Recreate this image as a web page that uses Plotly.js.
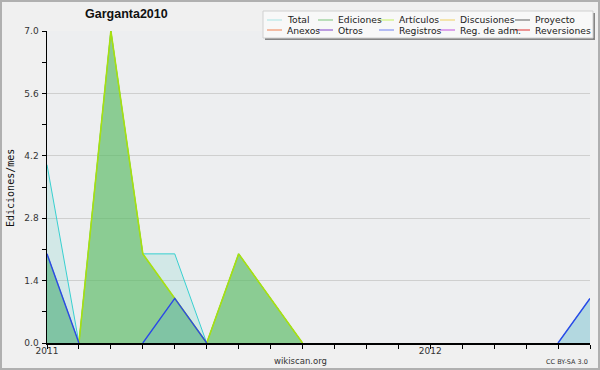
<!DOCTYPE html>
<html>
<head>
<meta charset="utf-8">
<script src="https://cdn.plot.ly/plotly-3.0.1.min.js"></script>
<style>
  html, body { margin: 0; padding: 0; background: #f0f0f0; }
  #wrap { position: relative; width: 600px; height: 370px; }
  #chart { width: 600px; height: 370px; }
  #frame { position: absolute; left: 0; top: 0; width: 600px; height: 370px; box-sizing: border-box;
           border: 2px solid #b0b0b0; pointer-events: none; }
</style>
</head>
<body>
<div id="wrap"><div id="chart"></div><div id="frame"></div></div>
<script>
// Months (2011-01 .. 2012-06)
const months = ["2011-01","2011-02","2011-03","2011-04","2011-05","2011-06","2011-07","2011-08","2011-09",
                "2011-10","2011-11","2011-12","2012-01","2012-02","2012-03","2012-04","2012-05","2012-06"];
const monthLabels = ["2011","","","","","","","","","","","","2012","","","","",""];

// Series values (edits per month)
const total      = [4, 0, 7, 2, 2, 0, 2, 1, 0, 0, 0, 0, 0, 0, 0, 0, 0, 1];
const ediciones  = [2, 0, 7, 2, 1, 0, 2, 1, 0, 0, 0, 0, 0, 0, 0, 0, 0, 0];
const articulos  = [0, 0, 7, 2, 1, 0, 2, 1, 0, 0, 0, 0, 0, 0, 0, 0, 0, 0];
const registros  = [2, 0, 0, 0, 1, 0, 0, 0, 0, 0, 0, 0, 0, 0, 0, 0, 0, 1];

// Legend entries
const legendNames  = ["Total","Ediciones","Artículos","Discusiones","Proyecto",
                      "Anexos","Otros","Registros","Reg. de adm.","Reversiones"];
const legendColors = ["#a8e4e4","#7cc47c","#c4f060","#f0d060","#606060",
                      "#f08050","#8040c8","#7080f0","#c050e0","#e03030"];
const legendLineX  = [267, 318, 379, 440, 515];
const legendRowY   = [20, 30];

const yTicks = [0, 1.4, 2.8, 4.2, 5.6, 7.0];
const yTickText = ["0.0","1.4","2.8","4.2","5.6","7.0"];

// Hide zero runs (a zero point is only drawn when it ends a non-zero segment)
const visible = arr => arr.map((v, i) =>
  (v !== 0 || (i > 0 && arr[i - 1] !== 0) || (i < arr.length - 1 && arr[i + 1] !== 0)) ? v : null);

const traces = [
  { x: months, y: visible(total), type: "scatter", mode: "lines", fill: "tozeroy",
    fillcolor: "rgba(70,205,185,0.16)", line: { color: "#38d0d0", width: 1 }, hoverinfo: "skip" },
  { x: months, y: visible(ediciones), type: "scatter", mode: "lines", fill: "tozeroy",
    fillcolor: "rgba(96,188,96,0.62)", line: { color: "#7cc47c", width: 1 }, hoverinfo: "skip" },
  { x: months, y: visible(articulos), type: "scatter", mode: "lines",
    line: { color: "#a8e010", width: 1.6 }, hoverinfo: "skip" },
  { x: months, y: visible(registros), type: "scatter", mode: "lines", fill: "tozeroy",
    fillcolor: "rgba(100,175,210,0.28)", line: { color: "#2a48e8", width: 1.4 }, hoverinfo: "skip" }
];

const W = 600, H = 370, L = 47, R = 10, T = 31, B = 27;
const pw = W - L - R, ph = H - T - B;
const px = v => (v - L) / pw;
const py = v => (H - B - v) / ph;

const shapes = [];
const annotations = [];
// legend box (shadow + box)
shapes.push({ type: "rect", xref: "paper", yref: "paper", x0: px(265), x1: px(595), y0: py(40), y1: py(13),
  line: { width: 0 }, fillcolor: "#858585", layer: "above" });
shapes.push({ type: "rect", xref: "paper", yref: "paper", x0: px(263), x1: px(593), y0: py(38), y1: py(11),
  line: { color: "#d0d0d0", width: 1 }, fillcolor: "#f8f8f8", layer: "above" });
legendNames.forEach((name, i) => {
  const col = i % 5, row = Math.floor(i / 5);
  const x0 = legendLineX[col], y = legendRowY[row];
  shapes.push({ type: "line", xref: "paper", yref: "paper", x0: px(x0), x1: px(x0 + 15), y0: py(y), y1: py(y),
    line: { color: legendColors[i], width: 1 }, layer: "above" });
  annotations.push({ xref: "paper", yref: "paper", x: px(x0 + 18), y: py(y), xanchor: "left", yanchor: "middle",
    text: name, showarrow: false, font: { family: "DejaVu Sans", size: 9.2, color: "#222" } });
});
annotations.push({ xref: "paper", yref: "paper", x: px(10), y: py(188), textangle: -90, xanchor: "center", yanchor: "middle",
  text: "Ediciones/mes", showarrow: false, font: { family: "DejaVu Sans Mono", size: 10, color: "#111" } });
annotations.push({ xref: "paper", yref: "paper", x: px(300), y: py(361), xanchor: "center", yanchor: "middle",
  text: "wikiscan.org", showarrow: false, font: { family: "DejaVu Sans", size: 8.5, color: "#333" } });
annotations.push({ xref: "paper", yref: "paper", x: px(590), y: py(362), xanchor: "right", yanchor: "middle",
  text: "CC BY-SA 3.0", showarrow: false, font: { family: "DejaVu Sans", size: 6.5, color: "#333" } });
annotations.push({ xref: "paper", yref: "paper", x: px(126), y: py(14), xanchor: "center", yanchor: "middle",
  text: "<b>Garganta2010</b>", showarrow: false, font: { family: "Liberation Sans", size: 12.5, color: "#111" } });

const layout = {
  width: W, height: H,
  margin: { l: L, r: R, t: T, b: B, pad: 0 },
  paper_bgcolor: "#f0f0f0",
  plot_bgcolor: "#edeef0",
  showlegend: false,
  xaxis: {
    type: "category", range: [0, months.length - 1],
    tickmode: "array", tickvals: months, ticktext: monthLabels,
    ticks: "outside", ticklen: 4, tickcolor: "#000", tickwidth: 1,
    showline: true, linecolor: "#000", linewidth: 1.5,
    showgrid: false, zeroline: false,
    tickfont: { family: "DejaVu Sans", size: 9, color: "#333" },
    ticklabelstandoff: -5
  },
  yaxis: {
    range: [0, 7], tickmode: "array", tickvals: yTicks, ticktext: yTickText,
    ticks: "outside", ticklen: 4, tickcolor: "#000", tickwidth: 1,
    minor: { dtick: 0.7, ticks: "outside", ticklen: 4, tickcolor: "#000", showgrid: false },
    showline: true, linecolor: "#000", linewidth: 1.5,
    showgrid: true, gridcolor: "#cfcfcf", gridwidth: 1, zeroline: false,
    tickfont: { family: "DejaVu Sans", size: 9, color: "#333" },
    ticklabelstandoff: 1
  },
  shapes: shapes,
  annotations: annotations
};

Plotly.newPlot("chart", traces, layout, { staticPlot: true, displayModeBar: false });
</script>
</body>
</html>
